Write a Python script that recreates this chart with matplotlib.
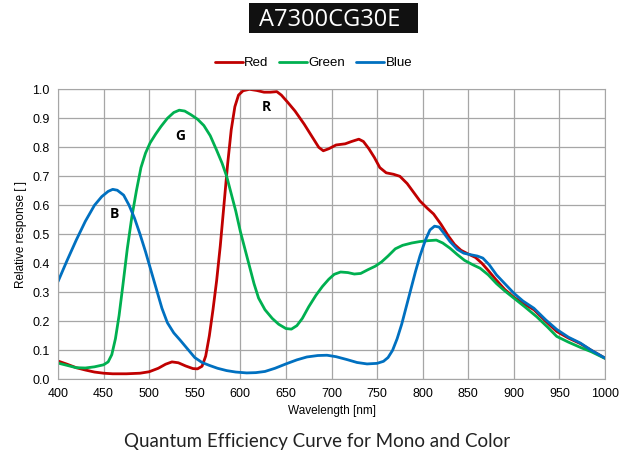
import numpy as np
import matplotlib.pyplot as plt
from matplotlib.patches import Rectangle

# wavelength [nm] / relative response
red_wl = [400, 410, 420, 430, 440, 450, 460, 475, 490, 500, 510, 518, 525, 532, 540, 548, 553, 558,
          562, 566, 570, 574, 578, 582, 586, 590, 594, 598, 603, 610, 618, 626, 633, 640, 645, 652,
          660, 670, 680, 686, 691, 697, 705, 715, 722, 730, 735, 741, 747, 753, 760, 768, 775, 783,
          790, 797, 805, 812, 820, 828, 835, 842, 850, 858, 865, 872, 880, 890, 900, 910, 922, 935,
          947, 960, 973, 985, 1000]
red_qe = [0.063, 0.052, 0.040, 0.032, 0.025, 0.021, 0.019, 0.019, 0.021, 0.026, 0.038, 0.052, 0.060,
          0.057, 0.046, 0.037, 0.036, 0.045, 0.08, 0.15, 0.24, 0.34, 0.46, 0.60, 0.74, 0.86, 0.94,
          0.98, 0.995, 1.0, 0.996, 0.99, 0.99, 0.992, 0.98, 0.955, 0.925, 0.88, 0.83, 0.80, 0.788,
          0.795, 0.808, 0.812, 0.82, 0.828, 0.82, 0.795, 0.765, 0.73, 0.712, 0.707, 0.70, 0.675,
          0.645, 0.615, 0.59, 0.57, 0.535, 0.495, 0.465, 0.445, 0.432, 0.42, 0.40, 0.375, 0.345,
          0.31, 0.283, 0.262, 0.24, 0.20, 0.165, 0.142, 0.123, 0.10, 0.073]

green_wl = [400, 410, 420, 430, 440, 450, 455, 459, 463, 467, 471, 476, 481, 486, 491, 496, 501, 507,
            513, 520, 527, 533, 539, 546, 553, 560, 567, 574, 580, 585, 590, 595, 600, 605, 610, 615,
            620, 627, 635, 642, 650, 656, 662, 668, 675, 683, 690, 697, 703, 710, 718, 725, 732, 740,
            748, 755, 762, 770, 778, 788, 797, 806, 815, 822, 830, 838, 846, 855, 863, 872, 881, 890,
            900, 912, 925, 937, 947, 960, 973, 985, 1000]
green_qe = [0.056, 0.048, 0.040, 0.039, 0.043, 0.05, 0.06, 0.085, 0.14, 0.22, 0.32, 0.45, 0.56, 0.65,
            0.73, 0.78, 0.815, 0.845, 0.872, 0.90, 0.92, 0.928, 0.925, 0.912, 0.897, 0.875, 0.84,
            0.79, 0.745, 0.70, 0.64, 0.58, 0.51, 0.45, 0.39, 0.33, 0.28, 0.24, 0.21, 0.19, 0.175,
            0.173, 0.185, 0.21, 0.25, 0.29, 0.32, 0.345, 0.362, 0.37, 0.368, 0.363, 0.365, 0.378,
            0.39, 0.405, 0.425, 0.45, 0.462, 0.47, 0.475, 0.478, 0.48, 0.47, 0.452, 0.43, 0.41,
            0.395, 0.383, 0.36, 0.33, 0.305, 0.28, 0.25, 0.216, 0.18, 0.148, 0.128, 0.11, 0.095, 0.072]

blue_wl = [400, 410, 420, 430, 440, 448, 455, 460, 465, 472, 478, 484, 490, 496, 502, 508, 514, 520,
           527, 534, 542, 550, 558, 566, 575, 585, 595, 607, 617, 627, 638, 650, 662, 673, 685, 695,
           705, 717, 728, 739, 750, 757, 762, 767, 772, 777, 782, 787, 792, 797, 803, 808, 813, 818,
           823, 830, 838, 845, 852, 860, 866, 873, 881, 890, 900, 910, 922, 935, 947, 960, 973, 985,
           1000]
blue_qe = [0.337, 0.41, 0.48, 0.545, 0.60, 0.63, 0.648, 0.655, 0.652, 0.635, 0.60, 0.555, 0.50, 0.44,
           0.375, 0.31, 0.245, 0.195, 0.16, 0.135, 0.105, 0.075, 0.058, 0.048, 0.038, 0.03, 0.025,
           0.022, 0.023, 0.027, 0.038, 0.053, 0.067, 0.077, 0.082, 0.083, 0.078, 0.068, 0.058,
           0.053, 0.055, 0.062, 0.075, 0.10, 0.14, 0.19, 0.25, 0.31, 0.37, 0.425, 0.48, 0.515,
           0.528, 0.525, 0.505, 0.475, 0.448, 0.435, 0.43, 0.425, 0.418, 0.395, 0.36, 0.33, 0.297,
           0.27, 0.245, 0.205, 0.172, 0.145, 0.125, 0.10, 0.073]

# peak labels
peak_labels = ["R", "G", "B"]
peak_pos = [(628, 0.94), (534, 0.84), (462, 0.57)]

W, H = 620, 457
fig = plt.figure(figsize=(6.2, 4.57), dpi=100)
ax = fig.add_axes([58 / W, 1 - 379.3 / H, 547 / W, 290 / H])

kw = dict(lw=2.0, solid_joinstyle='round', solid_capstyle='round')
ax.plot(red_wl, red_qe, color='#C00000', label='Red', **kw)
ax.plot(green_wl, green_qe, color='#00B050', label='Green', **kw)
ax.plot(blue_wl, blue_qe, color='#0070C0', label='Blue', **kw)

for lab, (x, y) in zip(peak_labels, peak_pos):
    ax.text(x, y, lab, fontsize=10, fontweight='bold', family='Open Sans', ha='center', va='center')

ax.set_xlim(400, 1000)
ax.set_ylim(0, 1.0)
ax.set_xticks(np.arange(400, 1001, 50))
ax.set_yticks(np.arange(0, 1.01, 0.1))
ax.set_yticklabels([f"{v:.1f}" for v in np.arange(0, 1.01, 0.1)])
ax.grid(True, color='#A6A6A6', lw=0.9)
ax.set_axisbelow(True)
for s in ax.spines.values():
    s.set_color('#A6A6A6')
ax.tick_params(length=0, labelsize=9, pad=6)
for t in ax.get_xticklabels() + ax.get_yticklabels():
    t.set_family('Liberation Sans')

ax.set_xlabel('Wavelength [nm]', fontsize=8.5, family='Liberation Sans', labelpad=4)
ax.set_ylabel('Relative response [ ]', fontsize=8.5, family='Liberation Sans', labelpad=4)

ax.legend(loc='center', bbox_to_anchor=((313.5 - 58) / 547, (379.3 - 63.3) / 290), ncol=3,
          frameon=False, prop={'family': 'Liberation Sans', 'size': 9.5}, handlelength=2.1,
          handletextpad=0.1, columnspacing=0.85, borderpad=0)

# black title box
fig.patches.append(Rectangle((249 / W, 1 - 33 / H), 169 / W, 30 / H, transform=fig.transFigure,
                             facecolor='#111111', edgecolor='none'))
fig.text(329.5 / W, 1 - 20 / H, 'A7300CG30E', color='white', fontsize=17, family='Open Sans',
         ha='center', va='center')

fig.text(317 / W, 1 - 441 / H, 'Quantum Efficiency Curve for Mono and Color', fontsize=13.5,
         family='Lato', ha='center', va='center', color='#222222')

fig.savefig('out.png', dpi=100)
